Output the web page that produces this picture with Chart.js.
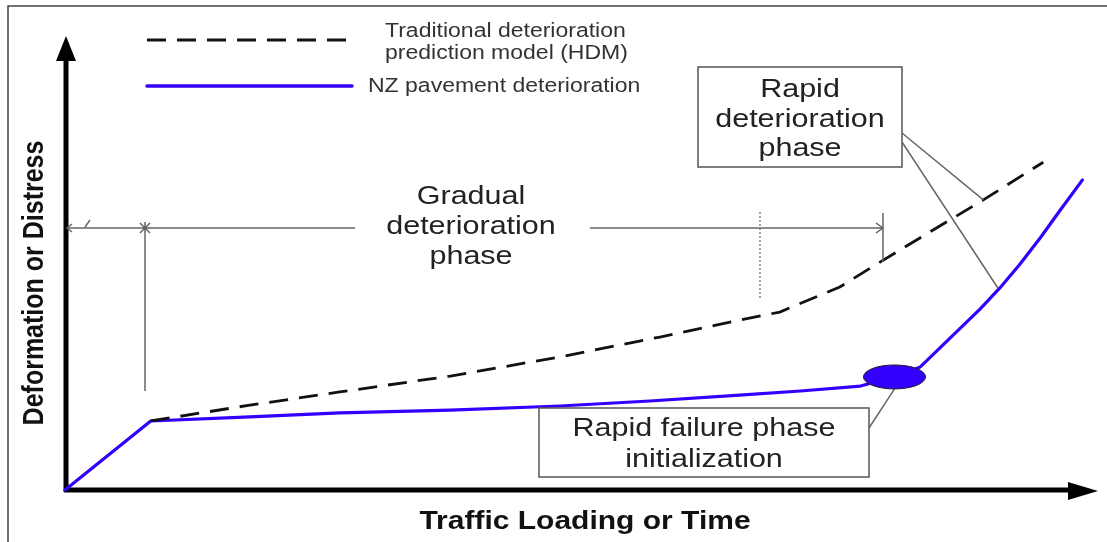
<!DOCTYPE html>
<html>
<head>
<meta charset="utf-8">
<script src="https://cdn.jsdelivr.net/npm/chart.js@4.4.1/dist/chart.umd.min.js"></script>
<style>
html,body{margin:0;padding:0;background:#fff;}
canvas{display:block;}
</style>
</head>
<body>
<canvas id="c" width="1107" height="542"></canvas>
<script>
// Traffic loading / time (arbitrary units 0-100) and deformation (0-100)
const nzX  = [0, 8.3, 17.9, 26.6, 37.3, 47.9, 56.6, 65.3, 71.2, 77.0, 80.3, 82.8, 84.7, 86.6, 88.6, 90.5, 92.4, 94.4, 96.3, 98.5];
const nzY  = [0, 15.2, 16.1, 17.0, 17.6, 18.5, 19.6, 20.9, 21.8, 22.9, 24.9, 27.1, 31.3, 35.5, 39.9, 44.5, 49.6, 55.5, 61.5, 68.3];
const hdmX = [8.3, 17.9, 26.6, 37.3, 47.9, 57.6, 65.3, 69.2, 75.0, 78.9, 83.7, 88.9, 94.7];
const hdmY = [15.2, 18.7, 21.6, 25.1, 29.3, 33.7, 37.4, 39.2, 44.7, 50.2, 56.8, 63.9, 72.2];
const seriesNames = ["Traditional deterioration\nprediction model (HDM)", "NZ pavement deterioration"];
const xTitle = "Traffic Loading or Time";
const yTitle = "Deformation or Distress";
const phaseGradual = ["Gradual", "deterioration", "phase"];
const phaseRapid = ["Rapid", "deterioration", "phase"];
const phaseFailure = ["Rapid failure phase", "initialization"];
const failureIndex = 10;   // NZ point where rapid failure starts
const rapidHdmIndex = 11;  // HDM point pointed to by rapid phase label
const rapidNzIndex = 15;   // NZ point pointed to by rapid phase label
const gradualEndHdmIndex = 9;

const BLUE = '#3300ff';
const GREY = '#666';

function pts(xs, ys){ return xs.map((x,i)=>({x:x, y:ys[i]})); }

function sText(ctx, txt, x, y, font, sx, align){
  ctx.save();
  ctx.font = font;
  ctx.textAlign = align || 'center';
  ctx.textBaseline = 'alphabetic';
  ctx.translate(x, y);
  ctx.scale(sx, 1);
  ctx.fillText(txt, 0, 0);
  ctx.restore();
}

const decor = {
  id: 'decor',
  beforeDatasetsDraw(chart){
    const ctx = chart.ctx;
    const a = chart.chartArea;
    ctx.save();
    // frame
    ctx.strokeStyle = '#444'; ctx.lineWidth = 1.5;
    ctx.beginPath(); ctx.moveTo(8, 542); ctx.lineTo(8, 6); ctx.lineTo(1107, 6); ctx.stroke();
    // axes
    ctx.strokeStyle = '#000'; ctx.fillStyle = '#000'; ctx.lineWidth = 5;
    ctx.beginPath(); ctx.moveTo(a.left+1, a.bottom+2); ctx.lineTo(a.left+1, a.top+22); ctx.stroke();
    ctx.beginPath(); ctx.moveTo(a.left-1, a.bottom); ctx.lineTo(a.right-26, a.bottom); ctx.stroke();
    ctx.beginPath(); ctx.moveTo(a.left+1, a.top); ctx.lineTo(a.left-9, a.top+25); ctx.lineTo(a.left+11, a.top+25); ctx.closePath(); ctx.fill();
    ctx.beginPath(); ctx.moveTo(a.right, a.bottom+1); ctx.lineTo(a.right-30, a.bottom-8); ctx.lineTo(a.right-30, a.bottom+10); ctx.closePath(); ctx.fill();
    // axis titles
    ctx.fillStyle = '#111';
    sText(ctx, xTitle, 585, 529, 'bold 25px "Liberation Sans", Arial, sans-serif', 1.2);
    ctx.save();
    ctx.translate(43, 283);
    ctx.scale(1.2, 1);
    ctx.rotate(-Math.PI/2);
    ctx.font = 'bold 25px "Liberation Sans", Arial, sans-serif';
    ctx.textAlign = 'center'; ctx.textBaseline = 'alphabetic';
    ctx.fillText(yTitle, 0, 0);
    ctx.restore();
    ctx.restore();
  },
  afterDatasetsDraw(chart){
    const ctx = chart.ctx;
    const xs = chart.scales.x, ys = chart.scales.y;
    const P = (xv, yv) => [xs.getPixelForValue(xv), ys.getPixelForValue(yv)];
    ctx.save();
    ctx.strokeStyle = GREY; ctx.lineWidth = 1.5;
    // gradual phase dimension line
    const gEnd = P(hdmX[gradualEndHdmIndex], hdmY[gradualEndHdmIndex]);
    ctx.beginPath();
    ctx.moveTo(67, 228); ctx.lineTo(355, 228);
    ctx.moveTo(590, 228); ctx.lineTo(883, 228);
    ctx.moveTo(876, 223); ctx.lineTo(883, 228); ctx.lineTo(876, 233);
    ctx.moveTo(72, 224); ctx.lineTo(67, 228); ctx.lineTo(72, 232);
    ctx.moveTo(85, 227); ctx.lineTo(90, 220);
    ctx.moveTo(145, 228); ctx.lineTo(145, 391);
    ctx.moveTo(140, 223); ctx.lineTo(150, 233);
    ctx.moveTo(150, 223); ctx.lineTo(140, 233);
    ctx.moveTo(145, 222); ctx.lineTo(145, 234);
    ctx.moveTo(883, 213); ctx.lineTo(883, gEnd[1]);
    ctx.stroke();
    // dotted vertical
    ctx.lineWidth = 1.2;
    ctx.setLineDash([2, 2]);
    ctx.beginPath(); ctx.moveTo(760, 212); ctx.lineTo(760, 300); ctx.stroke();
    ctx.setLineDash([]);
    // boxes
    ctx.lineWidth = 1.5; ctx.strokeStyle = '#555';
    ctx.fillStyle = '#fff';
    ctx.fillRect(698, 67, 204, 100); ctx.strokeRect(698, 67, 204, 100);
    ctx.fillRect(539, 408, 330, 69); ctx.strokeRect(539, 408, 330, 69);
    // leaders from rapid deterioration box
    ctx.strokeStyle = GREY;
    const r1 = P(hdmX[rapidHdmIndex], hdmY[rapidHdmIndex]);
    const r2 = P(nzX[rapidNzIndex], nzY[rapidNzIndex]);
    ctx.beginPath();
    ctx.moveTo(902, 133); ctx.lineTo(r1[0], r1[1]);
    ctx.moveTo(902, 142); ctx.lineTo(r2[0] - 2, r2[1]);
    ctx.stroke();
    // failure ellipse + leader
    const e = P(nzX[failureIndex], nzY[failureIndex]);
    ctx.beginPath(); ctx.moveTo(869, 428); ctx.lineTo(e[0], e[1]+12); ctx.stroke();
    ctx.fillStyle = BLUE; ctx.strokeStyle = '#222'; ctx.lineWidth = 1;
    ctx.beginPath(); ctx.ellipse(e[0], e[1], 31, 12, 0, 0, Math.PI*2); ctx.fill(); ctx.stroke();
    // texts
    ctx.fillStyle = '#222';
    const f25 = '25px "Liberation Sans", Arial, sans-serif';
    phaseGradual.forEach((t,i)=> sText(ctx, t, 471, 204 + i*30, f25, 1.22));
    phaseRapid.forEach((t,i)=> sText(ctx, t, 800, 97 + i*29.5, f25, 1.22));
    phaseFailure.forEach((t,i)=> sText(ctx, t, 704, 436 + i*31, f25, 1.22));
    // legend
    ctx.strokeStyle = '#111'; ctx.lineWidth = 2.8; ctx.setLineDash([19, 11]);
    ctx.beginPath(); ctx.moveTo(147, 40); ctx.lineTo(352, 40); ctx.stroke();
    ctx.setLineDash([]);
    ctx.strokeStyle = BLUE; ctx.lineWidth = 3.5; ctx.lineCap = 'round';
    ctx.beginPath(); ctx.moveTo(147, 86); ctx.lineTo(352, 86); ctx.stroke();
    ctx.fillStyle = '#333';
    const f20 = '20px "Liberation Sans", Arial, sans-serif';
    const l1 = seriesNames[0].split('\n');
    sText(ctx, l1[0], 385, 37, f20, 1.15, 'left');
    sText(ctx, l1[1], 385, 59, f20, 1.15, 'left');
    sText(ctx, seriesNames[1], 368, 92, f20, 1.15, 'left');
    ctx.restore();
  }
};

new Chart(document.getElementById('c'), {
  type: 'scatter',
  data: {
    datasets: [
      { label: seriesNames[0], data: pts(hdmX, hdmY), showLine: true, borderColor: '#111',
        borderWidth: 2.8, borderDash: [19, 11], pointRadius: 0, tension: 0, fill: false },
      { label: seriesNames[1], data: pts(nzX, nzY), showLine: true, borderColor: BLUE,
        borderWidth: 3.2, pointRadius: 0, tension: 0, fill: false, borderCapStyle: 'round', borderJoinStyle: 'round' }
    ]
  },
  options: {
    responsive: false,
    animation: false,
    events: [],
    layout: { padding: { left: 65, top: 36, right: 9, bottom: 52 } },
    scales: {
      x: { type: 'linear', min: 0, max: 100, display: false },
      y: { type: 'linear', min: 0, max: 100, display: false }
    },
    plugins: { legend: { display: false }, tooltip: { enabled: false }, title: { display: false } },
    elements: { line: { capBezierPoints: false } },
    clip: false
  },
  plugins: [decor]
});
</script>
</body>
</html>
